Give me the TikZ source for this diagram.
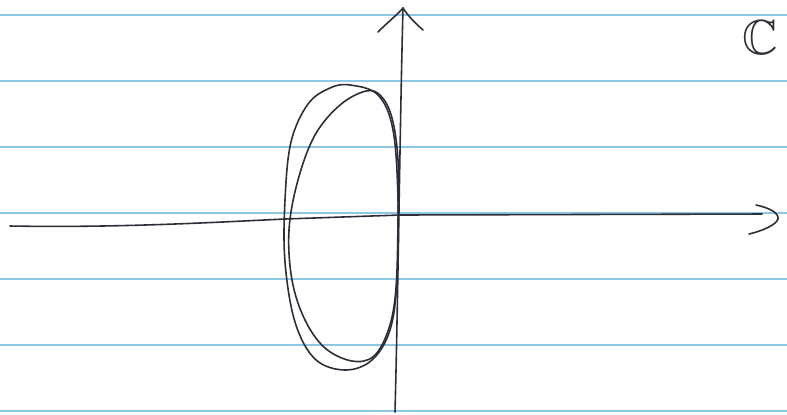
\documentclass[tikz,border=0pt]{standalone}
\usepackage{amssymb}
\usepackage{xcolor}
\usetikzlibrary{positioning,calc,arrows.meta}

\definecolor{ruled}{RGB}{140,200,230}
\definecolor{pencil}{RGB}{45,45,55}

\begin{document}
\begin{tikzpicture}[x=0.02cm, y=-0.02cm, pencil/.style = {draw=pencil, line width=0.9pt, line cap=round, line join=round}, rule/.style = {draw=ruled, line width=1pt}]

% paper
\useasboundingbox (0,0) rectangle (787,414);
\fill[white] (0,0) rectangle (787,414);
\foreach \y in {15,81,147,213,279,345,411}
  \draw[rule] (0,\y) -- (787,\y);

% axes
\coordinate (xl) at (10,226);
\coordinate (o) at (400,215);
\coordinate (xr) at (762,214);
\coordinate (yb) at (395,412);
\coordinate (yt) at (403,8);

\draw[pencil] (xl) .. controls (120,228) and (220,222) .. (285,219) -- (o) -- (xr);
\draw[pencil] (yb) .. controls (398,300) and (400,120) .. (yt);

% open arrow heads
\draw[pencil] (756,205) .. controls (770,208) and (779,213) .. (778,219) .. controls (776,225) and (762,231) .. (749,234);
\draw[pencil] (378,32) .. controls (388,22) and (398,14) .. (yt) .. controls (408,16) and (416,24) .. (423,30);

% the two loops
\draw[pencil] plot[smooth cycle, tension=0.6] coordinates {(350,85) (378,95) (393,130) (398,200) (397,280) (390,330) (372,360) (345,370) (315,359) (295,322) (285,262) (285,200) (291,142) (308,104) (330,88)};
\draw[pencil] plot[smooth cycle, tension=0.6] coordinates {(366,91) (340,105) (315,135) (298,180) (289,230) (292,280) (305,320) (325,348) (352,361) (374,356) (389,328) (396,288) (398,220) (398,160) (392,118) (381,96)};

% label
\node[text=pencil, inner sep=0pt, font=\fontsize{28}{30}\selectfont] (plane) at (760,38) {$\mathbb{C}$};
\end{tikzpicture}
\end{document}
